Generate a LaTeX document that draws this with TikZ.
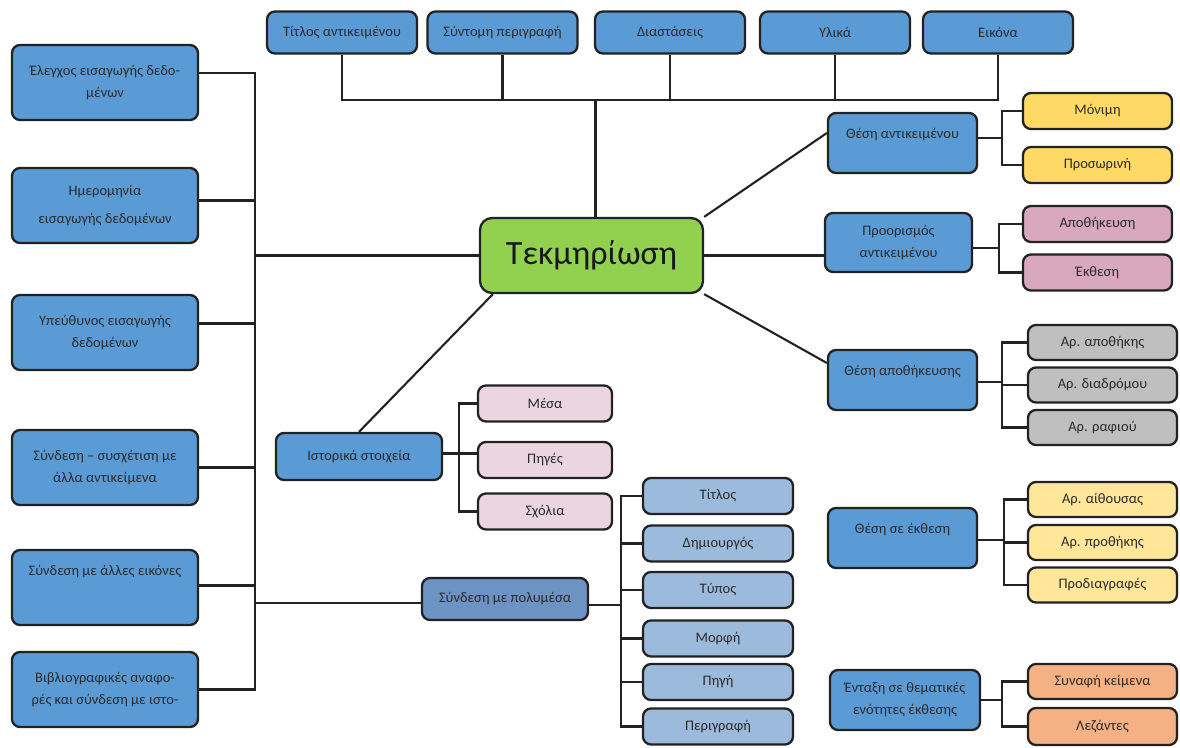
\documentclass[tikz,border=0pt]{standalone}
\usepackage{fontspec}
\setmainfont{Carlito}
\usepackage{tikz}

\definecolor{edge}{HTML}{222222}
\definecolor{ink}{HTML}{2B2B2B}
\definecolor{boxblue}{HTML}{5B9BD5}
\definecolor{mapgreen}{HTML}{92D050}
\definecolor{gold}{HTML}{FFD966}
\definecolor{rose}{HTML}{D8A8C0}
\definecolor{pinklight}{HTML}{EBD6E0}
\definecolor{greybox}{HTML}{BFBFBF}
\definecolor{paleyellow}{HTML}{FFE699}
\definecolor{salmon}{HTML}{F4B183}
\definecolor{lightblue}{HTML}{9CBADC}
\definecolor{mediablue}{HTML}{6D92C4}

\begin{document}
\begin{tikzpicture}[x=1pt,y=-1pt,
  box/.style={draw=edge,line width=2.3pt,rounded corners=8pt,text=ink,align=center,
    font=\fontsize{14.5}{22}\selectfont,inner sep=2pt},
  bluebox/.style={box,fill=boxblue},
  topbox/.style={bluebox,minimum width=150pt,minimum height=42pt},
  leftbox/.style={bluebox,minimum width=186pt,minimum height=75pt},
  midbox/.style={bluebox,minimum width=149pt,minimum height=60pt},
  leaf/.style={box,fill=#1,minimum width=149pt,minimum height=36pt},
  mainbox/.style={draw=edge,line width=2.3pt,rounded corners=12pt,fill=mapgreen,
    minimum width=223pt,minimum height=75pt,font=\fontsize{34}{34}\selectfont,text=black!90},
  toptext/.style={label={[text=ink,font=\fontsize{14.5}{16}\selectfont,anchor=north,yshift=-13pt]north:#1}},
  link/.style={draw=edge,line width=2.1pt}]
\useasboundingbox (0,0) rectangle (1180,747);

\node[mainbox] (center) at (591.5,255.5) {Τεκμηρίωση};

% top row
\node[topbox] (t1) at (342,32.5) {Τίτλος αντικειμένου};
\node[topbox] (t2) at (502.5,32.5) {Σύντομη περιγραφή};
\node[topbox] (t3) at (670,32.5) {Διαστάσεις};
\node[topbox] (t4) at (835,32.5) {Υλικά};
\node[topbox] (t5) at (998,32.5) {Εικόνα};
\coordinate (bar) at (0,100);
\draw[link] (t1.south) -- (t1.south |- bar) -- (t5.south |- bar) -- (t5.south);
\foreach \n in {t2,t3,t4} \draw[link] (\n.south) -- (\n.south |- bar);
\draw[link] ([xshift=4pt]center.north) -- ([xshift=4pt]center.north |- bar);

% left column
\node[leftbox] (l1) at (105,82.5) {Έλεγχος εισαγωγής δεδο-\\μένων};
\node[leftbox] (l2) at (105,205.5) {Ημερομηνία\\[6pt]εισαγωγής δεδομένων};
\node[leftbox] (l3) at (105,332.5) {Υπεύθυνος εισαγωγής\\δεδομένων};
\node[leftbox] (l4) at (105,467.5) {Σύνδεση – συσχέτιση με\\άλλα αντικείμενα};
\node[leftbox,toptext=Σύνδεση με άλλες εικόνες] (l5) at (105,587.5) {};
\node[leftbox] (l6) at (105,689.5) {Βιβλιογραφικές αναφο-\\ρές και σύνδεση με ιστο-};
\coordinate (trunk) at (255,0);
\draw[link] ([yshift=9.5pt]l1.east) -| (trunk |- l6.east) -- (l6.east);
\foreach \n/\s in {l2/5,l3/9,l4/0,l5/2}
  \draw[link] ([yshift=\s pt]\n.east) -- ([yshift=\s pt]\n.east -| trunk);
\draw[link] (center.west) -- (center.west -| trunk);

% historical data
\node[bluebox,minimum width=166pt,minimum height=47pt] (istorika) at (359,456.5) {Ιστορικά στοιχεία};
\node[leaf=pinklight,minimum width=134pt] (mesa) at (545,403.5) {Μέσα};
\node[leaf=pinklight,minimum width=134pt] (piges) at (545,460) {Πηγές};
\node[leaf=pinklight,minimum width=134pt] (sxolia) at (545,511.5) {Σχόλια};
\draw[link] (mesa.west) -- ++(-18,0) coordinate (hs) |- (sxolia.west);
\draw[link] ([yshift=3pt]istorika.east) -- ([yshift=3pt]istorika.east -| piges.west);
\draw[link] (istorika.north) -- ([xshift=14pt]center.south west);

% multimedia
\node[box,fill=mediablue,minimum width=166pt,minimum height=42pt] (polymesa) at (505,599) {Σύνδεση με πολυμέσα};
\foreach \y/\t [count=\i] in {496/Τίτλος,543.5/Δημιουργός,590/Τύπος,638.5/Μορφή,682/Πηγή,726.5/Περιγραφή}
  \node[leaf=lightblue,minimum width=150pt] (m\i) at (718,\y) {\t};
\draw[link] (m1.west) -- ++(-21,0) coordinate (ms) |- (m6.west);
\foreach \i in {2,...,5} \draw[link] (m\i.west) -- (m\i.west -| ms);
\draw[link] ([yshift=-6pt]polymesa.east) -- ([yshift=-6pt]polymesa.east -| ms);
\draw[link] ([yshift=-4pt]polymesa.west) -- ([yshift=-4pt]polymesa.west -| trunk);

% object position
\node[midbox,toptext=Θέση αντικειμένου] (thesi) at (902.5,143) {};
\node[leaf=gold] (monimi) at (1097.5,111) {Μόνιμη};
\node[leaf=gold] (prosorini) at (1097.5,165) {Προσωρινή};
\draw[link] (monimi.west) -- ++(-20,0) coordinate (s1) |- (prosorini.west);
\draw[link] ([yshift=5pt]thesi.east) -- ([yshift=5pt]thesi.east -| s1);
\draw[link] (center.north east) -- ([yshift=10pt]thesi.west);

% destination
\node[midbox,minimum width=147pt,minimum height=59pt] (proorismos) at (898.5,242.5) {Προορισμός\\αντικειμένου};
\node[leaf=rose] (apothikeusi) at (1097.5,224) {Αποθήκευση};
\node[leaf=rose] (ekthesi) at (1097.5,272.5) {Έκθεση};
\draw[link] (apothikeusi.west) -- ++(-23,0) coordinate (s2) |- (ekthesi.west);
\draw[link] ([yshift=-5.5pt]proorismos.east) -- ([yshift=-5.5pt]proorismos.east -| s2);
\draw[link] (center.east) -- (center.east -| proorismos.west);

% storage position
\node[midbox,toptext=Θέση αποθήκευσης] (apothikeusis) at (902.5,380) {};
\node[leaf=greybox,minimum height=35pt] (arapo) at (1102.5,342.5) {Αρ. αποθήκης};
\node[leaf=greybox,minimum height=35pt] (ardia) at (1102.5,385) {Αρ. διαδρόμου};
\node[leaf=greybox,minimum height=35pt] (arraf) at (1102.5,427.5) {Αρ. ραφιού};
\draw[link] (arapo.west) -- ++(-25,0) coordinate (s3) |- (arraf.west);
\draw[link] (ardia.west) -- (ardia.west -| s3);
\draw[link] ([yshift=-2pt]apothikeusis.east) -- ([yshift=-2pt]apothikeusis.east -| s3);
\draw[link] (center.south east) -- ([yshift=17pt]apothikeusis.west);

% exhibition position
\node[midbox,toptext=Θέση σε έκθεση] (thesiekth) at (902.5,538) {};
\node[leaf=paleyellow,minimum height=35pt] (araith) at (1102.5,499.5) {Αρ. αίθουσας};
\node[leaf=paleyellow,minimum height=35pt] (arproth) at (1102.5,542.5) {Αρ. προθήκης};
\node[leaf=paleyellow,minimum height=35pt] (prodiagr) at (1102.5,585) {Προδιαγραφές};
\draw[link] (araith.west) -- ++(-23,0) coordinate (s4) |- (prodiagr.west);
\draw[link] (arproth.west) -- (arproth.west -| s4);
\draw[link] ([yshift=-2pt]thesiekth.east) -- ([yshift=-2pt]thesiekth.east -| s4);

% thematic units
\node[midbox,minimum width=150pt] (entaxi) at (905,700) {Ένταξη σε θεματικές\\ενότητες έκθεσης};
\node[leaf=salmon,minimum height=35pt] (synafi) at (1102.5,681.5) {Συναφή κείμενα};
\node[leaf=salmon,minimum height=37pt] (lezantes) at (1102.5,726.5) {Λεζάντες};
\draw[link] (synafi.west) -- ++(-25,0) coordinate (s5) |- (lezantes.west);
\draw[link] (entaxi.east) -- (entaxi.east -| s5);

\end{tikzpicture}
\end{document}
